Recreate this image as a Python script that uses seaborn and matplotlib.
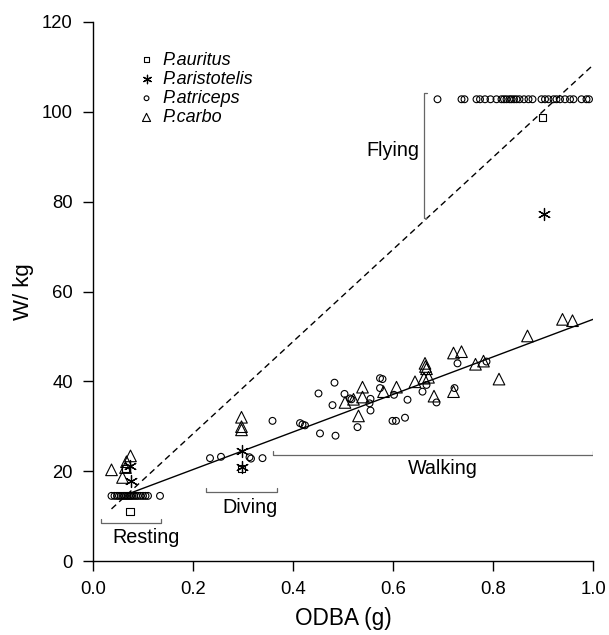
import numpy as np
import pandas as pd
import seaborn as sns
import matplotlib.pyplot as plt

# values
auritus_x = [0.074, 0.065, 0.297, 0.899]
auritus_y = [11.1, 20.5, 20.5, 98.8]

aristotelis_x = [0.073, 0.076, 0.297, 0.297, 0.902]
aristotelis_y = [21.2, 17.7, 24.6, 20.9, 77.3]

atriceps_x = [0.037, 0.043, 0.048, 0.052, 0.056, 0.060, 0.063, 0.066, 0.069, 0.072,
              0.075, 0.078, 0.082, 0.086, 0.090, 0.095, 0.100, 0.105, 0.110, 0.134,
              0.234, 0.256, 0.313, 0.316, 0.339, 0.359,
              0.414, 0.419, 0.424, 0.451, 0.483, 0.479, 0.454, 0.485, 0.503, 0.514,
              0.517, 0.529, 0.555, 0.553, 0.555, 0.574, 0.579, 0.574, 0.602, 0.599,
              0.606, 0.624, 0.629, 0.659, 0.667, 0.687, 0.729, 0.723, 0.787,
              0.689, 0.737, 0.743, 0.767, 0.774, 0.784, 0.795, 0.807, 0.817, 0.822,
              0.827, 0.833, 0.837, 0.842, 0.847, 0.853, 0.862, 0.871, 0.879, 0.897,
              0.904, 0.911, 0.921, 0.927, 0.934, 0.944, 0.954, 0.961, 0.977, 0.987, 0.992]
atriceps_y = [14.5, 14.5, 14.5, 14.5, 14.5, 14.5, 14.5, 14.5, 14.5, 14.5,
              14.5, 14.5, 14.5, 14.5, 14.5, 14.5, 14.5, 14.5, 14.5, 14.5,
              22.9, 23.2, 23.1, 22.8, 22.9, 31.2,
              30.7, 30.4, 30.2, 37.3, 39.7, 34.7, 28.4, 27.9, 37.2, 36.2,
              36.0, 29.8, 36.1, 35.1, 33.5, 40.7, 40.5, 38.5, 37.0, 31.2,
              31.2, 31.9, 35.9, 37.7, 39.2, 35.3, 44.0, 38.5, 44.4,
              102.8, 102.8, 102.8, 102.8, 102.8, 102.8, 102.8, 102.8, 102.8, 102.8,
              102.8, 102.8, 102.8, 102.8, 102.8, 102.8, 102.8, 102.8, 102.8, 102.8,
              102.8, 102.8, 102.8, 102.8, 102.8, 102.8, 102.8, 102.8, 102.8, 102.8, 102.8]

carbo_x = [0.037, 0.075, 0.067, 0.065, 0.059,
           0.297, 0.297, 0.297,
           0.504, 0.521, 0.539, 0.539, 0.531, 0.581, 0.607, 0.644, 0.664, 0.665,
           0.667, 0.662, 0.671, 0.682, 0.721, 0.737, 0.721, 0.765, 0.781, 0.812,
           0.869, 0.939, 0.959]
carbo_y = [20.3, 23.4, 22.1, 20.8, 18.6,
           32.0, 29.9, 29.2,
           35.3, 36.0, 38.7, 36.5, 32.3, 37.7, 38.7, 39.9, 44.0, 43.3,
           42.8, 40.7, 40.9, 36.7, 46.3, 46.6, 37.7, 43.8, 44.5, 40.5,
           50.1, 53.8, 53.5]

# fitted lines: walking/resting/diving (solid) and flying (dashed)
solid_x = [0.074, 1.0]
solid_int, solid_slope = 12.0, 41.8
dashed_x = [0.037, 1.0]
dashed_int, dashed_slope = 7.8, 102.6

sns.set_style("ticks")
plt.rcParams['font.family'] = ['Liberation Sans', 'DejaVu Sans']
plt.rcParams['text.color'] = 'black'
plt.rcParams['axes.labelcolor'] = 'black'
plt.rcParams['xtick.color'] = 'black'
plt.rcParams['ytick.color'] = 'black'

fig = plt.figure(figsize=(6.09, 6.35), dpi=100)
ax = fig.add_axes([93 / 609, 1 - 561 / 635, 500 / 609, 539 / 635])

open_kw = dict(facecolor='none', edgecolor='black', linewidth=0.8)
sns.scatterplot(x=auritus_x, y=auritus_y, marker='s', s=26, ax=ax,
                label='P.auritus', **open_kw)
sns.scatterplot(x=aristotelis_x, y=aristotelis_y, marker=(6, 2, 0), s=75, ax=ax,
                color='black', linewidth=0.9, label='P.aristotelis')
sns.scatterplot(x=atriceps_x, y=atriceps_y, marker='o', s=24, ax=ax,
                label='P.atriceps', **open_kw)
sns.scatterplot(x=carbo_x, y=carbo_y, marker='^', s=70, ax=ax,
                label='P.carbo', **open_kw)

sx = np.array(solid_x)
dx = np.array(dashed_x)
ax.plot(sx, solid_int + solid_slope * sx, color='black', lw=1.0)
ax.plot(dx, dashed_int + dashed_slope * dx, color='black', lw=1.0, ls=(0, (4.5, 3)))

# activity brackets
bc = '#666666'
def hbracket(x1, x2, y, h=0.8):
    ax.plot([x1, x1, x2, x2], [y + h, y, y, y + h], color=bc, lw=0.9)

hbracket(0.015, 0.136, 8.5)
hbracket(0.226, 0.367, 15.4)
hbracket(0.359, 1.0, 23.6)
ax.plot([0.667, 0.661, 0.661, 0.667], [104.3, 104.3, 76.3, 76.3], color=bc, lw=0.9)

ax.text(0.107, 7.3, 'Resting', ha='center', va='top', fontsize=14.2)
ax.text(0.315, 14.0, 'Diving', ha='center', va='top', fontsize=14.2)
ax.text(0.70, 22.6, 'Walking', ha='center', va='top', fontsize=14.2)
ax.text(0.652, 91.5, 'Flying', ha='right', va='center', fontsize=14.2)

leg = ax.legend(loc='upper left', bbox_to_anchor=(0.089, 0.945), frameon=False,
                borderpad=0, borderaxespad=0, handlelength=1.0, handletextpad=0.4,
                labelspacing=0.12, markerscale=0.7, prop={'style': 'italic', 'size': 13})

ax.set_xlim(0, 1.0)
ax.set_ylim(0, 120)
ax.set_xticks([0.0, 0.2, 0.4, 0.6, 0.8, 1.0])
ax.set_yticks([0, 20, 40, 60, 80, 100, 120])
ax.tick_params(labelsize=13.3, length=7, width=1, pad=7.5, color='black')
ax.set_xlabel('ODBA (g)', fontsize=16.3, labelpad=6.5)
ax.set_ylabel('W/ kg', fontsize=16, labelpad=6)
sns.despine(ax=ax)
for sp in ax.spines.values():
    sp.set_linewidth(1.0)
    sp.set_color('black')

fig.savefig('out.png', dpi=100)
